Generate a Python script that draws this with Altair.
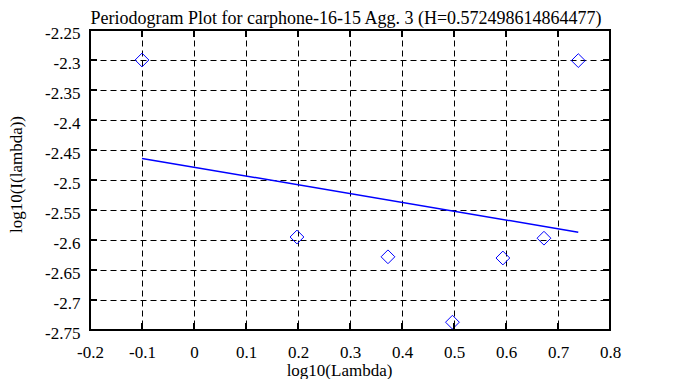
import altair as alt
import pandas as pd

# Periodogram points (log10 frequency vs log10 periodogram)
x_vals = [-0.1, 0.198, 0.373, 0.497, 0.594, 0.673, 0.739]
y_vals = [-2.300, -2.595, -2.628, -2.737, -2.630, -2.597, -2.301]

# Fitted regression line end points
fit_x = [-0.1, 0.739]
fit_y = [-2.464, -2.587]

# Axis tick values
x_ticks = [-0.2, -0.1, 0, 0.1, 0.2, 0.3, 0.4, 0.5, 0.6, 0.7, 0.8]
y_ticks = [-2.25, -2.3, -2.35, -2.4, -2.45, -2.5, -2.55, -2.6, -2.65, -2.7, -2.75]
x_inner = [-0.1, 0, 0.1, 0.2, 0.3, 0.4, 0.5, 0.6, 0.7]
y_inner = [-2.3, -2.35, -2.4, -2.45, -2.5, -2.55, -2.6, -2.65, -2.7]

title_text = "Periodogram Plot for carphone-16-15 Agg. 3 (H=0.572498614864477)"
x_title = "log10(Lambda)"
y_title = "log10(I(lambda))"

FONT = "Liberation Serif"
W, H = 520, 300

pts = pd.DataFrame({"x": x_vals, "y": y_vals})
fit = pd.DataFrame({"x": fit_x, "y": fit_y})
xt = pd.DataFrame({"x": x_inner})
yt = pd.DataFrame({"y": y_inner})

xscale = alt.Scale(domain=[-0.2, 0.8], nice=False, zero=False)
yscale = alt.Scale(domain=[-2.75, -2.25], nice=False, zero=False)

xaxis = alt.Axis(
    values=x_ticks, title=x_title, grid=True, gridColor="black", gridDash=[6, 4],
    gridWidth=1, gridOpacity=1, ticks=False, domain=False,
    labelFont=FONT, labelFontSize=17, labelColor="black", labelPadding=14,
    labelFlush=False, labelOverlap=False, labelBound=False,
    labelExpr="toString(datum.value)",
    titleFont=FONT, titleFontSize=17, titleFontWeight="normal", titleColor="black",
    titleX=249, titleY=45, titleAlign="center", titleBaseline="alphabetic",
)
yaxis = alt.Axis(
    values=y_ticks, title=y_title, grid=True, gridColor="black", gridDash=[6, 4],
    gridWidth=1, gridOpacity=1, ticks=False, domain=False,
    labelFont=FONT, labelFontSize=17, labelColor="black", labelPadding=10,
    labelFlush=False, labelOverlap=False, labelBound=False, labelOffset=3,
    labelExpr="toString(datum.value)",
    titleFont=FONT, titleFontSize=17, titleFontWeight="normal", titleColor="black",
    titleX=-69, titleY=144, titleAlign="center", titleBaseline="alphabetic", titleAngle=270,
)

points = alt.Chart(pts).mark_point(
    shape="diamond", size=190, filled=False, color="#0000ff", strokeWidth=1, opacity=1
).encode(
    x=alt.X("x:Q", scale=xscale, axis=xaxis),
    y=alt.Y("y:Q", scale=yscale, axis=yaxis),
)

line = alt.Chart(fit).mark_line(color="#0000ff", strokeWidth=1.5).encode(
    x=alt.X("x:Q", scale=xscale, axis=xaxis),
    y=alt.Y("y:Q", scale=yscale, axis=yaxis),
)

tick_style = dict(color="black", strokeWidth=2)
xt_bottom = alt.Chart(xt).mark_rule(**tick_style).encode(
    x=alt.X("x:Q", scale=xscale, axis=xaxis), y=alt.value(H), y2=alt.value(H - 7))
xt_top = alt.Chart(xt).mark_rule(**tick_style).encode(
    x=alt.X("x:Q", scale=xscale, axis=xaxis), y=alt.value(0), y2=alt.value(7))
yt_left = alt.Chart(yt).mark_rule(**tick_style).encode(
    y=alt.Y("y:Q", scale=yscale, axis=yaxis), x=alt.value(0), x2=alt.value(7))
yt_right = alt.Chart(yt).mark_rule(**tick_style).encode(
    y=alt.Y("y:Q", scale=yscale, axis=yaxis), x=alt.value(W), x2=alt.value(W - 7))

chart = alt.layer(line, points, xt_bottom, xt_top, yt_left, yt_right).properties(
    width=W, height=H,
    background="white",
    title=alt.TitleParams(
        text=title_text, font=FONT, fontSize=18, fontWeight="normal", color="black",
        anchor="middle", offset=6, dx=-4, dy=10, frame="group",
    ),
    autosize=alt.AutoSizeParams(type="none"),
    padding={"left": 82, "top": 22, "right": 48, "bottom": 49},
).configure_axis(
    labelOverlap=False, labelFlush=False, labelBound=False
).configure_view(
    stroke="black", strokeWidth=2
)

chart.save("out.html", embed_options={"renderer": "svg", "actions": False})
